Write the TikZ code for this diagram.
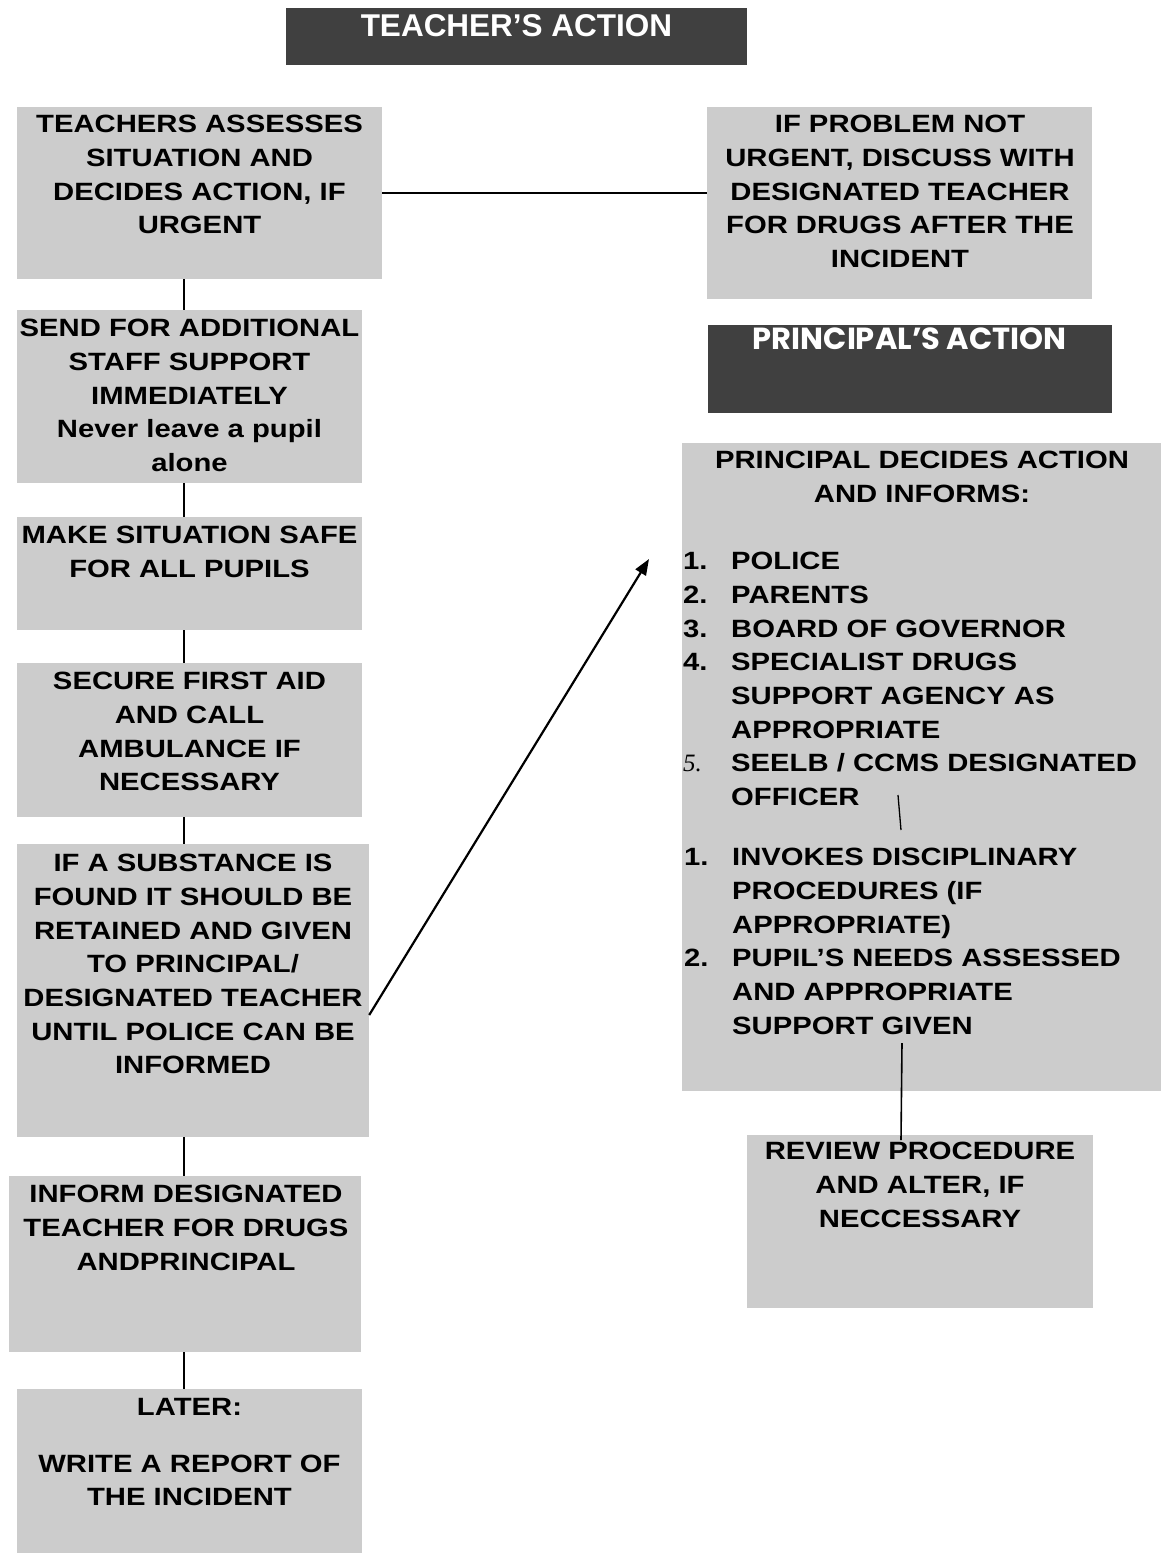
\documentclass[tikz,border=0pt]{standalone}
\usepackage{fontspec}
\setmainfont{Liberation Sans}[FakeStretch=1.17]
\newfontfamily\titlefont{Liberation Sans}
\newfontfamily\princfont{Poppins}
\newfontfamily\numfont{Liberation Serif}
\usetikzlibrary{arrows.meta}
\definecolor{boxgray}{HTML}{CCCCCC}
\definecolor{darkgray}{HTML}{404040}
\tikzset{
  box/.style={rectangle, fill=boxgray, draw=none, inner sep=0pt},
  darkbox/.style={rectangle, fill=darkgray, draw=none, inner sep=0pt},
  txt/.style={inner sep=0pt, anchor=north, align=center, font=\fontsize{25}{33.7}\selectfont\bfseries},
  conn/.style={line width=1.6pt, black},
  arrowline/.style={line width=2.2pt, black, -{Triangle[length=16pt,width=12pt]}}
}
\begin{document}
\begin{tikzpicture}[x=1pt,y=-1pt]
\useasboundingbox (0,0) rectangle (1161,1553);
\fill[white] (0,0) rectangle (1161,1553);

% ---------- boxes ----------
\node[darkbox, minimum width=461pt, minimum height=57pt] (title) at (516.5,36.5) {};
\node[box, minimum width=365pt, minimum height=172pt] (assess) at (199.5,193) {};
\node[box, minimum width=385pt, minimum height=192pt] (noturgent) at (899.5,203) {};
\node[box, minimum width=345pt, minimum height=173pt] (send) at (189.5,396.5) {};
\node[box, minimum width=345pt, minimum height=113pt] (safe) at (189.5,573.5) {};
\node[box, minimum width=345pt, minimum height=154pt] (aid) at (189.5,740) {};
\node[box, minimum width=352pt, minimum height=293pt] (subst) at (193,990.5) {};
\node[box, minimum width=352pt, minimum height=176pt] (inform) at (185,1264) {};
\node[box, minimum width=345pt, minimum height=164pt] (later) at (189.5,1471) {};
\node[darkbox, minimum width=404pt, minimum height=88pt] (ptitle) at (910,369) {};
\node[box, minimum width=479pt, minimum height=648pt] (pbox) at (921.5,767) {};
\node[box, minimum width=346pt, minimum height=173pt] (review) at (920,1221.5) {};

% ---------- connectors ----------
\coordinate (spine) at (184,0);
\draw[conn] (assess.east) -- (assess.east -| noturgent.west);
\draw[conn] (assess.south -| spine) -- (send.north -| spine);
\draw[conn] (send.south -| spine) -- (safe.north -| spine);
\draw[conn] (safe.south -| spine) -- (aid.north -| spine);
\draw[conn] (aid.south -| spine) -- (subst.north -| spine);
\draw[conn] (subst.south -| spine) -- (inform.north -| spine);
\draw[conn] (inform.south -| spine) -- (later.north -| spine);
\coordinate (astart) at (369,1015);
\coordinate (atip) at (649,559);
\draw[arrowline] (subst.east |- astart) -- (atip);
\coordinate (s1) at (898,795);
\coordinate (s2) at (901,830);
\draw[line width=1.3pt] (s1) -- (s2);
\coordinate (r1) at (902,1043);
\coordinate (r2) at (901,1140);
\draw[line width=1.6pt] (r1) -- (r2);

% ---------- texts ----------
\node[inner sep=0pt, anchor=north, text=white, font=\fontsize{31.5}{36}\selectfont\titlefont\bfseries] (ttitle) at (516.5,14.5) {TEACHER’S ACTION};
\node[txt] (tassess) at (199.5,133-18) {TEACHERS ASSESSES\\SITUATION AND\\DECIDES ACTION, IF\\URGENT};
\node[txt] (tnoturgent) at (900,133-18) {IF PROBLEM NOT\\URGENT, DISCUSS WITH\\DESIGNATED TEACHER\\FOR DRUGS AFTER THE\\INCIDENT};
\node[txt] (tsend) at (189.5,337-18) {SEND FOR ADDITIONAL\\STAFF SUPPORT\\IMMEDIATELY\\Never leave a pupil\\alone};
\node[txt] (tsafe) at (189.5,544-18) {MAKE SITUATION SAFE\\FOR ALL PUPILS};
\node[txt] (taid) at (189.5,690-18) {SECURE FIRST AID\\AND CALL\\AMBULANCE IF\\NECESSARY};
\node[txt] (tsubst) at (193,872-18) {IF A SUBSTANCE IS\\FOUND IT SHOULD BE\\RETAINED AND GIVEN\\TO PRINCIPAL/\\DESIGNATED TEACHER\\UNTIL POLICE CAN BE\\INFORMED};
\node[txt] (tinform) at (186,1203-18) {INFORM DESIGNATED\\TEACHER FOR DRUGS\\ANDPRINCIPAL};
\node[txt] (tlater) at (189.5,1416-18) {LATER:\\[23pt]WRITE A REPORT OF\\THE INCIDENT};
\node[inner sep=0pt, anchor=north, text=white, font=\fontsize{30.5}{34}\selectfont\princfont\bfseries] (tptitle) at (909.7,328) {PRINCIPAL’S ACTION};
\node[txt] (tphead) at (922,469-18) {PRINCIPAL DECIDES ACTION\\AND INFORMS:};
\node[txt, align=left, anchor=north west] (tplist) at (683,570-18) {%
\makebox[48pt][l]{1.}POLICE\\
\makebox[48pt][l]{2.}PARENTS\\
\makebox[48pt][l]{3.}BOARD OF GOVERNOR\\
\makebox[48pt][l]{4.}SPECIALIST DRUGS\\
\hspace*{48pt}SUPPORT AGENCY AS\\
\hspace*{48pt}APPROPRIATE\\
\makebox[48pt][l]{\mdseries\numfont\itshape 5.}SEELB / CCMS DESIGNATED\\
\hspace*{48pt}OFFICER};
\node[txt, align=left, anchor=north west] (tplist2) at (684,866-18) {%
\makebox[48pt][l]{1.}INVOKES DISCIPLINARY\\
\hspace*{48pt}PROCEDURES (IF\\
\hspace*{48pt}APPROPRIATE)\\
\makebox[48pt][l]{2.}PUPIL’S NEEDS ASSESSED\\
\hspace*{48pt}AND APPROPRIATE\\
\hspace*{48pt}SUPPORT GIVEN};
\node[txt] (treview) at (920,1160-18) {REVIEW PROCEDURE\\AND ALTER, IF\\NECCESSARY};
\end{tikzpicture}
\end{document}
